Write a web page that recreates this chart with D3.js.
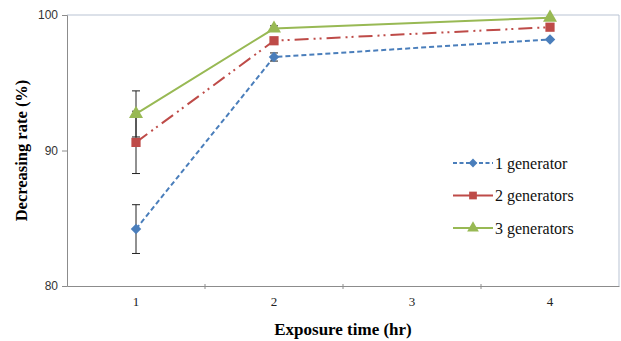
<!DOCTYPE html>
<html>
<head>
<meta charset="utf-8">
<script src="https://cdn.jsdelivr.net/npm/d3@7"></script>
<style>
  body { margin: 0; background: #fff; }
</style>
</head>
<body>
<svg width="621" height="341"></svg>
<script>
const hours = [1, 2, 3, 4];
const timePoints = [1, 2, 4];
const seriesNames = ["1 generator", "2 generators", "3 generators"];
const gen1 = [84.2, 96.9, 98.2];
const gen2 = [90.6, 98.1, 99.1];
const gen3 = [92.7, 99.0, 99.8];
const err1 = [1.8, 0.3, 0];
const err2 = [2.3, 0, 0];
const err3 = [1.7, 0.2, 0];
const yTicks = [80, 90, 100];

const serif = "'Liberation Serif', 'Times New Roman', serif";
const sans = "'Liberation Sans', Arial, sans-serif";

const svg = d3.select("svg");
const margin = { top: 15, right: 2, bottom: 55, left: 67 };
const width = +svg.attr("width");
const height = +svg.attr("height");

const x = d3.scaleBand()
	.domain(hours)
	.range([margin.left, width - margin.right]);

const y = d3.scaleLinear()
	.domain([80, 100])
	.range([height - margin.bottom, margin.top]);

const cx = d => x(d) + x.bandwidth() / 2;

// frame: top and right border
svg.append("path")
	.attr("d", `M${margin.left},${margin.top}H${width - margin.right}V${height - margin.bottom}`)
	.attr("fill", "none")
	.attr("stroke", "#b9c3d3")
	.attr("stroke-width", 1);

// y axis
const yAxis = svg.append("g")
	.attr("transform", `translate(${margin.left},0)`)
	.call(d3.axisLeft(y).tickValues(yTicks).tickSize(5).tickPadding(4));
yAxis.select(".domain").attr("stroke", "#8c8c8c");
yAxis.selectAll(".tick line").attr("stroke", "#8c8c8c");
yAxis.selectAll(".tick text")
	.style("font-family", sans)
	.attr("font-size", 12)
	.attr("fill", "#333");

// x axis
const xAxis = svg.append("g")
	.attr("transform", `translate(0,${height - margin.bottom})`)
	.call(d3.axisBottom(x).tickSize(0).tickPadding(11));
xAxis.select(".domain").attr("stroke", "#8c8c8c");
xAxis.selectAll(".tick text")
	.style("font-family", serif)
	.attr("font-size", 13)
	.attr("fill", "#222");
xAxis.selectAll(".edge")
	.data(hours.slice(1))
	.join("line")
		.attr("x1", d => x(d))
		.attr("x2", d => x(d))
		.attr("y1", -2)
		.attr("y2", 3)
		.attr("stroke", "#8c8c8c");

// axis titles
svg.append("text")
	.attr("x", (margin.left + width - margin.right) / 2)
	.attr("y", 335)
	.attr("text-anchor", "middle")
	.style("font-family", serif)
	.attr("font-weight", "bold")
	.attr("font-size", 17)
	.text("Exposure time (hr)");

svg.append("text")
	.attr("transform", `translate(27,${(margin.top + height - margin.bottom) / 2}) rotate(-90)`)
	.attr("text-anchor", "middle")
	.style("font-family", serif)
	.attr("font-weight", "bold")
	.attr("font-size", 16.5)
	.text("Decreasing rate (%)");

const series = [
	{ name: seriesNames[0], values: gen1, err: err1, color: "#4a7ebb", dash: "5,3", marker: d3.symbolSquare, rot: 45, size: 55 },
	{ name: seriesNames[1], values: gen2, err: err2, color: "#be4b48", dash: "14,5,2,4,2,5", marker: d3.symbolSquare, rot: 0, size: 85 },
	{ name: seriesNames[2], values: gen3, err: err3, color: "#98b954", dash: null, marker: d3.symbolTriangle, rot: 0, size: 85 }
];

const line = d3.line()
	.x(d => cx(d.t))
	.y(d => y(d.v));

series.forEach(s => {
	const pts = timePoints.map((t, i) => ({ t, v: s.values[i], e: s.err[i] }));

	svg.append("path")
		.datum(pts)
		.attr("d", line)
		.attr("fill", "none")
		.attr("stroke", s.color)
		.attr("stroke-width", 2)
		.attr("stroke-dasharray", s.dash);

	const eb = svg.append("g")
		.attr("stroke", "#222")
		.attr("stroke-width", 1);
	pts.filter(d => d.e > 0).forEach(d => {
		eb.append("line")
			.attr("x1", cx(d.t)).attr("x2", cx(d.t))
			.attr("y1", y(d.v - d.e)).attr("y2", y(d.v + d.e));
		[d.v - d.e, d.v + d.e].forEach(v => {
			eb.append("line")
				.attr("x1", cx(d.t) - 4).attr("x2", cx(d.t) + 4)
				.attr("y1", y(v)).attr("y2", y(v));
		});
	});

	svg.append("g")
		.selectAll("path")
		.data(pts)
		.join("path")
			.attr("transform", d => `translate(${cx(d.t)},${y(d.v)}) rotate(${s.rot})`)
			.attr("d", d3.symbol(s.marker, s.size))
			.attr("fill", s.color);
});

// legend
const legend = svg.append("g")
	.attr("transform", "translate(453,163)");

series.forEach((s, i) => {
	const row = legend.append("g")
		.attr("transform", `translate(0,${i * 32.5})`);
	row.append("line")
		.attr("x1", 0).attr("x2", 40)
		.attr("stroke", s.color)
		.attr("stroke-width", 2)
		.attr("stroke-dasharray", i === 0 ? "4,2.5" : null);
	row.append("path")
		.attr("transform", `translate(20,0) rotate(${s.rot})`)
		.attr("d", d3.symbol(s.marker, s.size * 0.7))
		.attr("fill", s.color);
	row.append("text")
		.attr("x", 42)
		.attr("dy", "0.35em")
		.style("font-family", serif)
		.attr("font-size", 16)
		.attr("fill", "#111")
		.text(s.name);
});
</script>
</body>
</html>
